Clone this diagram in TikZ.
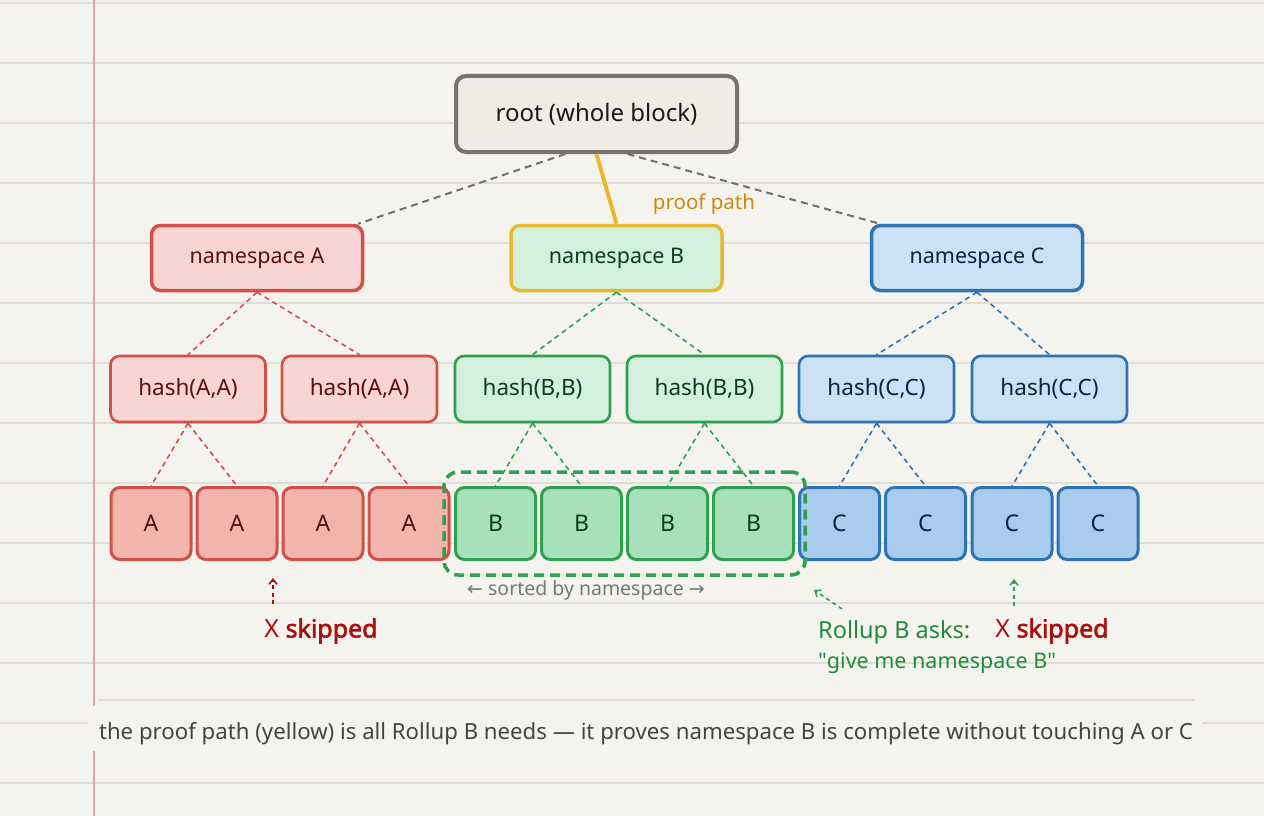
\documentclass[tikz,border=0pt]{standalone}
\usepackage{fontspec}
\setmainfont{Noto Sans}
\newfontfamily\arrowfont{DejaVu Sans}
\newfontfamily\boldish{Noto Sans}[FakeBold=2.2]
\newfontfamily\quotefont{Noto Sans}[Ligatures=TeXOff]
\usetikzlibrary{arrows.meta,calc,fit}
\definecolor{bgc}{HTML}{F5F3EE}
\definecolor{rulec}{HTML}{E0DCD6}
\definecolor{marginc}{HTML}{E8A4A4}
\definecolor{rootfill}{HTML}{EFECE6}
\definecolor{rootdraw}{HTML}{777370}
\definecolor{grayline}{HTML}{707070}
\definecolor{redd}{HTML}{D0504A}
\definecolor{redf}{HTML}{F8D5D2}
\definecolor{redl}{HTML}{F2B5AD}
\definecolor{redt}{HTML}{5A1010}
\definecolor{greend}{HTML}{2FA052}
\definecolor{greenf}{HTML}{D3F0DC}
\definecolor{greenl}{HTML}{A8E0BA}
\definecolor{greent}{HTML}{0D3D1A}
\definecolor{blued}{HTML}{2E74B5}
\definecolor{bluef}{HTML}{CCE1F4}
\definecolor{bluel}{HTML}{A9CBEE}
\definecolor{bluet}{HTML}{0D2240}
\definecolor{yellowd}{HTML}{E8B830}
\definecolor{goldt}{HTML}{C98A10}
\definecolor{skipred}{HTML}{A81010}
\definecolor{asktext}{HTML}{1E8C3C}
\definecolor{captext}{HTML}{444444}
\definecolor{sorttext}{HTML}{777777}
\tikzset{
  rulestyle/.style={draw=rulec, line width=1.2pt},
  box/.style={rounded corners=9pt, align=center, inner sep=0pt},
  rootbox/.style={box, draw=rootdraw, fill=rootfill, line width=4pt, rounded corners=10pt,
    minimum width=281pt, minimum height=76pt, font=\fontsize{24}{27}\selectfont, text=black!90},
  nsbox/.style={box, line width=3.5pt, minimum width=211pt, minimum height=65pt, font=\fontsize{21.5}{24}\selectfont},
  hashbox/.style={box, line width=2.6pt, minimum width=155pt, minimum height=66pt, font=\fontsize{22.5}{25}\selectfont},
  leafbox/.style={box, line width=3pt, minimum width=80pt, minimum height=72pt, font=\fontsize{23}{25}\selectfont},
  redset/.style={draw=redd, text=redt},
  greenset/.style={draw=greend, text=greent},
  blueset/.style={draw=blued, text=bluet},
  tdash/.style={line width=1.6pt, dash pattern=on 5pt off 4pt},
  gdash/.style={draw=grayline, line width=2pt, dash pattern=on 7pt off 5pt},
  smallarrow/.style={line width=1.6pt, dash pattern=on 4pt off 3.5pt, -{Straight Barb[length=5pt,width=8pt]}},
}
\begin{document}
\begin{tikzpicture}[x=1pt,y=-1pt]
\useasboundingbox (0,0) rectangle (1264,816);
\fill[bgc] (0,0) rectangle (1264,816);
\foreach \yy in {3,63,...,783} \draw[rulestyle] (0,\yy) -- (1264,\yy);
\draw[marginc, line width=1.5pt] (94,0) -- (94,816);
% caption area
\fill[bgc] (88,706) rectangle (1202,751);
\draw[rulestyle] (98,700) -- (1195,700);

% root
\node[rootbox] (root) at (596.5,114) {root (whole block)};

% namespaces
\node[nsbox, redset, fill=redf] (nsA) at (257,258) {namespace A};
\node[nsbox, draw=yellowd, fill=greenf, text=greent] (nsB) at (616.5,258) {namespace B};
\node[nsbox, blueset, fill=bluef] (nsC) at (977,258) {namespace C};

% hashes
\node[hashbox, redset, fill=redf] (hA1) at (188,389) {hash(A,A)};
\node[hashbox, redset, fill=redf] (hA2) at (359.5,389) {hash(A,A)};
\node[hashbox, greenset, fill=greenf] (hB1) at (532.5,389) {hash(B,B)};
\node[hashbox, greenset, fill=greenf] (hB2) at (704.5,389) {hash(B,B)};
\node[hashbox, blueset, fill=bluef] (hC1) at (876.5,389) {hash(C,C)};
\node[hashbox, blueset, fill=bluef] (hC2) at (1049.5,389) {hash(C,C)};

% leaves
\node[leafbox, redset, fill=redl] (lA1) at (151,523.5) {A};
\node[leafbox, redset, fill=redl] (lA2) at (237,523.5) {A};
\node[leafbox, redset, fill=redl] (lA3) at (323,523.5) {A};
\node[leafbox, redset, fill=redl] (lA4) at (409,523.5) {A};
\node[leafbox, greenset, fill=greenl] (lB1) at (495.5,523.5) {B};
\node[leafbox, greenset, fill=greenl] (lB2) at (581.5,523.5) {B};
\node[leafbox, greenset, fill=greenl] (lB3) at (667.5,523.5) {B};
\node[leafbox, greenset, fill=greenl] (lB4) at (753.5,523.5) {B};
\node[leafbox, blueset, fill=bluel] (lC1) at (839.5,523.5) {C};
\node[leafbox, blueset, fill=bluel] (lC2) at (925.5,523.5) {C};
\node[leafbox, blueset, fill=bluel] (lC3) at (1012,523.5) {C};
\node[leafbox, blueset, fill=bluel] (lC4) at (1098,523.5) {C};

% root connectors
\draw[gdash] ($(root.south)+(-31,0)$) -- ($(nsA.north east)+(-6,0)$);
\draw[gdash] ($(root.south)+(31,0)$) -- ($(nsC.north west)+(10,0)$);
\draw[yellowd, line width=4pt] (root.south) -- (nsB.north);
\node[text=goldt, font=\fontsize{20.5}{22}\selectfont] (pp) at (704,204) {proof path};

% namespace -> hash
\draw[redd, tdash] (nsA.south) -- (hA1.north);
\draw[redd, tdash] (nsA.south) -- (hA2.north);
\draw[greend, tdash] (nsB.south) -- (hB1.north);
\draw[greend, tdash] (nsB.south) -- (hB2.north);
\draw[blued, tdash] (nsC.south) -- (hC1.north);
\draw[blued, tdash] (nsC.south) -- (hC2.north);

% hash -> leaves
\draw[redd, tdash] (hA1.south) -- (lA1.north);
\draw[redd, tdash] (hA1.south) -- (lA2.north);
\draw[redd, tdash] (hA2.south) -- (lA3.north);
\draw[redd, tdash] (hA2.south) -- (lA4.north);
\draw[greend, tdash] (hB1.south) -- (lB1.north);
\draw[greend, tdash] (hB1.south) -- (lB2.north);
\draw[greend, tdash] (hB2.south) -- (lB3.north);
\draw[greend, tdash] (hB2.south) -- (lB4.north);
\draw[blued, tdash] (hC1.south) -- (lC1.north);
\draw[blued, tdash] (hC1.south) -- (lC2.north);
\draw[blued, tdash] (hC2.south) -- (lC3.north);
\draw[blued, tdash] (hC2.south) -- (lC4.north);

% selection box around B leaves
\node[draw=greend, line width=3.5pt, dash pattern=on 10pt off 6pt, rounded corners=14pt,
  inner xsep=10pt, inner ysep=14pt, fit=(lB1)(lB4)] (sel) {};
\node[text=sorttext, font=\fontsize{19.5}{22}\selectfont] (sorted) at (586,590)
  {{\arrowfont\fontsize{19}{22}\selectfont ←} sorted by namespace {\arrowfont\fontsize{19}{22}\selectfont →}};

% annotations
\node[text=skipred, font=\fontsize{25}{28}\selectfont] (skipA) at (321,631) {X {\boldish skipped}};
\coordinate (skA0) at (273,604);
\coordinate (skA1) at (273,578);
\draw[skipred, smallarrow] (skA0) -- (skA1);

\node[text=asktext, font=\fontsize{23.5}{26}\selectfont, anchor=west, inner sep=0pt] (ask) at (818,632) {Rollup B asks:};
\node[text=asktext, font=\fontsize{21.5}{24}\selectfont, anchor=west, inner sep=0pt] (give) at (818,663) {{\quotefont "}give me namespace B{\quotefont "}};
\node[text=skipred, font=\fontsize{25}{28}\selectfont] (skipC) at (1052,631) {X {\boldish skipped}};
\coordinate (ask0) at (842,609);
\coordinate (ask1) at (814,590);
\draw[greend, smallarrow] (ask0) -- (ask1);
\coordinate (skC0) at (1014,606);
\coordinate (skC1) at (1014,579);
\draw[greend, smallarrow] (skC0) -- (skC1);

% caption
\node[text=captext, font=\fontsize{22.2}{25}\selectfont] (cap) at (646,734)
  {the proof path (yellow) is all Rollup B needs — it proves namespace B is complete without touching A or C};
\end{tikzpicture}
\end{document}
